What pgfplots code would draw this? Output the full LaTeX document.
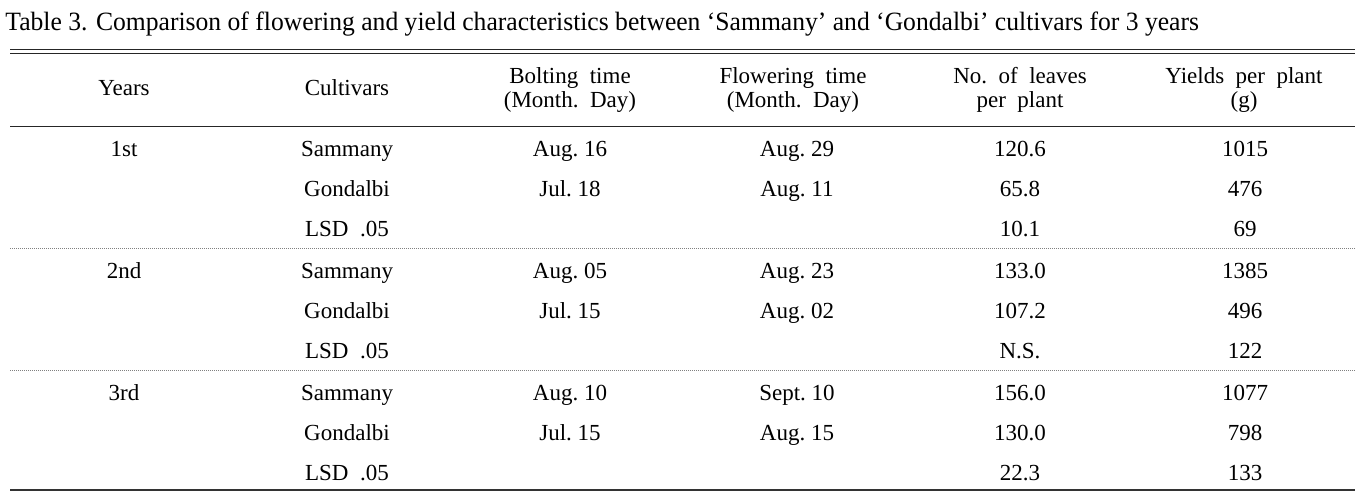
\documentclass[border=0pt]{standalone}
\usepackage{fontspec}
\setmainfont{Liberation Serif}
\newfontfamily\titlefont[FakeStretch=0.97]{Liberation Serif}
\usepackage{pgfplots}
\usepackage{pgfplotstable}
\pgfplotsset{compat=1.18}

\pgfplotstableread[col sep=comma]{
x,y,t
124,95,Years
347,95,Cultivars
570,83,Bolting~~time
570,107,(Month.~~Day)
793,83,Flowering~~time
793,107,(Month.~~Day)
1020,83,No.~~of~~leaves
1020,107,per~~plant
1244,83,Yields~~per~~plant
1244,107,(g)
}\head

\pgfplotstableread[col sep=comma]{
x,y,t
124,156,1st
347,156,Sammany
570,156,Aug.~16
797,156,Aug.~29
1020,156,120.6
1245,156,1015
347,196,Gondalbi
570,196,Jul.~18
797,196,Aug.~11
1020,196,65.8
1245,196,476
347,236,LSD~~.05
1020,236,10.1
1245,236,69
124,278,2nd
347,278,Sammany
570,278,Aug.~05
797,278,Aug.~23
1020,278,133.0
1245,278,1385
347,318,Gondalbi
570,318,Jul.~15
797,318,Aug.~02
1020,318,107.2
1245,318,496
347,358,LSD~~.05
1020,358,N.S.
1245,358,122
124,400,3rd
347,400,Sammany
570,400,Aug.~10
797,400,Sept.~10
1020,400,156.0
1245,400,1077
347,440,Gondalbi
570,440,Jul.~15
797,440,Aug.~15
1020,440,130.0
1245,440,798
347,480,LSD~~.05
1020,480,22.3
1245,480,133
}\body

\pgfplotstableread[col sep=comma]{
x,y,t
5,30,Table 3. Comparison of flowering and yield characteristics between ‘Sammany’ and ‘Gondalbi’ cultivars for 3 years
}\ttl

\begin{document}
\begin{tikzpicture}
\begin{axis}[
  x=0.5pt, y=0.5pt,
  xmin=0, xmax=1372, ymin=0, ymax=494,
  y dir=reverse,
  hide axis, clip=false,
  scale only axis,
]
% invisible frame to fix the bounding box
\addplot[draw=none, forget plot] coordinates {(0,0) (1372,494)};
% rules
\addplot[black!85, line width=0.6pt] coordinates {(10,49.5) (1355,49.5)};
\addplot[black!85, line width=0.6pt] coordinates {(10,53.5) (1355,53.5)};
\addplot[black!85, line width=0.5pt] coordinates {(10,126) (1355,126)};
\addplot[gray, line width=0.5pt, dash pattern=on 0.5pt off 0.5pt] coordinates {(10,248) (1355,248)};
\addplot[gray, line width=0.5pt, dash pattern=on 0.5pt off 0.5pt] coordinates {(10,370) (1355,370)};
\addplot[black!80, line width=0.75pt] coordinates {(10,490) (1355,490)};
% text
\addplot[only marks, mark=none, point meta=explicit symbolic,
  nodes near coords,
  every node near coord/.style={anchor=base, inner sep=0pt, font=\fontsize{11.5}{13}\selectfont, text=black}]
  table[x=x, y=y, meta=t] {\head};
\addplot[only marks, mark=none, point meta=explicit symbolic,
  nodes near coords,
  every node near coord/.style={anchor=base, inner sep=0pt, font=\fontsize{11.5}{13}\selectfont, text=black}]
  table[x=x, y=y, meta=t] {\body};
\addplot[only marks, mark=none, point meta=explicit symbolic,
  nodes near coords,
  every node near coord/.style={anchor=base west, inner sep=0pt, font=\titlefont\fontsize{13.2}{15}\selectfont, text=black}]
  table[x=x, y=y, meta=t] {\ttl};
\end{axis}
\end{tikzpicture}
\end{document}
